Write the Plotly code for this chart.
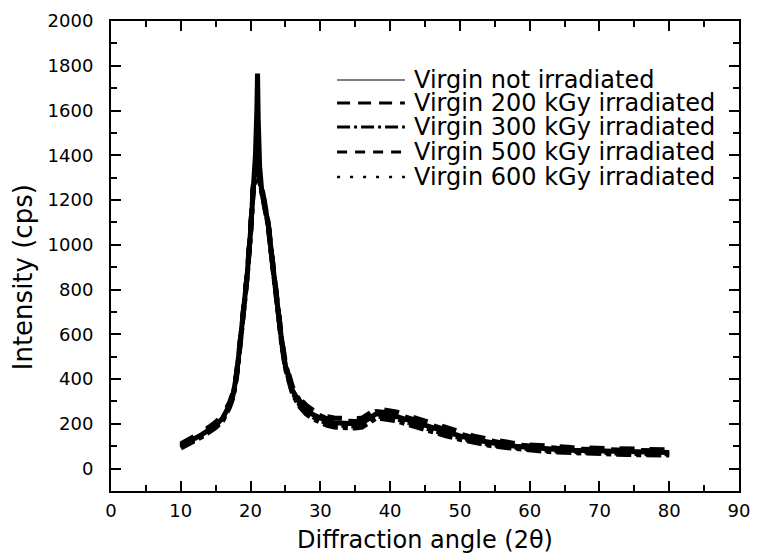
import plotly.graph_objects as go

# Diffraction angle (2theta), degrees
two_theta = [10, 11, 12, 13, 14, 15, 16, 17, 17.5, 18, 18.5, 19, 19.5, 20,
             20.4, 20.7, 20.9, 21.0, 21.1, 21.3, 21.6, 22.0, 22.5, 23.0, 23.5,
             24.0, 24.5, 25.0, 25.5, 26.0, 27, 28, 29, 30, 31, 32, 33, 34, 35,
             36, 37, 38, 39, 40, 41, 42, 43, 44, 45, 46, 47, 48, 50, 52, 54,
             56, 58, 60, 62, 64, 66, 68, 70, 72, 74, 76, 78, 80]

# Intensity (cps)
virgin_not_irr = [100, 116, 135, 152, 172, 195, 225, 285, 330, 420, 560, 700, 860, 1060,
                  1270, 1400, 1600, 1765, 1560, 1350, 1240, 1170, 1100, 960, 820,
                  680, 560, 460, 395, 350, 295, 262, 240, 225, 212, 205, 203, 200, 200,
                  205, 225, 245, 242, 238, 232, 222, 212, 202, 192, 182, 172, 163, 146, 130, 118,
                  108, 100, 94, 89, 85, 82, 80, 78, 76, 74, 73, 72, 72]
virgin_200 = [110, 126, 146, 163, 184, 207, 237, 296, 340, 428, 566, 706, 866, 1065,
              1268, 1310, 1335, 1340, 1332, 1300, 1245, 1178, 1108, 968, 828,
              690, 570, 472, 410, 366, 314, 282, 260, 245, 232, 226, 224, 222, 222,
              226, 246, 266, 263, 259, 252, 242, 232, 221, 211, 200, 190, 180, 162, 145, 132,
              121, 112, 106, 101, 97, 94, 92, 90, 88, 86, 85, 84, 84]
virgin_300 = [92, 106, 125, 142, 162, 184, 214, 275, 320, 410, 552, 692, 852, 1050,
              1255, 1290, 1315, 1320, 1318, 1285, 1230, 1160, 1090, 950, 810,
              670, 548, 448, 382, 336, 278, 244, 222, 206, 193, 186, 184, 181, 181,
              186, 206, 226, 223, 219, 213, 203, 193, 184, 174, 165, 155, 147, 131, 116, 105,
              96, 89, 83, 78, 74, 71, 69, 67, 65, 63, 62, 61, 61]
virgin_500 = [105, 121, 140, 158, 178, 201, 231, 290, 335, 424, 563, 703, 862, 1062,
              1272, 1320, 1345, 1352, 1345, 1310, 1250, 1175, 1104, 964, 824,
              685, 565, 466, 402, 358, 305, 272, 250, 235, 222, 215, 213, 210, 210,
              215, 235, 255, 252, 248, 242, 232, 222, 212, 202, 191, 181, 172, 154, 138, 125,
              115, 106, 100, 95, 91, 88, 86, 84, 82, 80, 79, 78, 78]
virgin_600 = [96, 110, 129, 146, 166, 189, 219, 280, 325, 414, 555, 695, 855, 1055,
              1262, 1300, 1325, 1330, 1325, 1292, 1235, 1165, 1095, 955, 815,
              675, 553, 453, 388, 342, 286, 252, 230, 215, 202, 195, 193, 190, 190,
              195, 215, 235, 232, 228, 222, 212, 202, 192, 182, 173, 163, 154, 138, 122, 111,
              101, 94, 88, 83, 79, 76, 74, 72, 70, 68, 67, 66, 66]

series_names = ["Virgin not irradiated", "Virgin 200 kGy irradiated",
                "Virgin 300 kGy irradiated", "Virgin 500 kGy irradiated",
                "Virgin 600 kGy irradiated"]
series_values = [virgin_not_irr, virgin_200, virgin_300, virgin_500, virgin_600]
data_dashes = ["solid", "dash", "dashdot", "dash", "dot"]
legend_dashes = ["solid", "13px,8px", "13px,4px,3px,4px", "10px,8px", "3px,10px"]
legend_widths = [1.2, 3, 3, 3, 2.5]

x_ticks = list(range(0, 100, 10))
y_ticks = list(range(0, 2200, 200))
x_title = "Diffraction angle (2\u03b8)"
y_title = "Intensity (cps)"

FONT = "DejaVu Sans"

fig = go.Figure()
for name, vals, dash in zip(series_names, series_values, data_dashes):
    fig.add_trace(go.Scatter(x=two_theta, y=vals, mode="lines", name=name,
                             line=dict(color="black", width=5, dash=dash),
                             showlegend=False))

# hand-drawn legend (long line samples as in the original)
row_y = [0.8745, 0.8255, 0.7745, 0.7213, 0.6681]
for name, yy, dsh, w in zip(series_names, row_y, legend_dashes, legend_widths):
    fig.add_shape(type="line", xref="paper", yref="paper", x0=0.360, x1=0.468,
                  y0=yy, y1=yy, line=dict(color="black", width=w, dash=dsh))
    fig.add_annotation(xref="paper", yref="paper", x=0.479, y=yy, text=name,
                       showarrow=False, xanchor="left", yanchor="middle",
                       font=dict(family=FONT, size=24, color="black"))

# axis titles (placed as in the original, which is not centred on the y axis)
fig.add_annotation(xref="paper", yref="paper", x=0.5, y=-0.1043, text=x_title,
                   showarrow=False, xanchor="center", yanchor="middle",
                   font=dict(family=FONT, size=24, color="black"))
fig.add_annotation(xref="paper", yref="paper", x=-0.140, y=0.455, text=y_title,
                   showarrow=False, xanchor="center", yanchor="middle", textangle=-90,
                   font=dict(family=FONT, size=26, color="black"))

axis_common = dict(showline=True, linecolor="black", linewidth=2, mirror="ticks",
                   ticks="inside", ticklen=10, tickwidth=2, tickcolor="black",
                   showgrid=False, zeroline=False,
                   tickfont=dict(family=FONT, size=18, color="black"))

fig.update_xaxes(range=[0, 90], tickvals=x_ticks, ticktext=[str(v) for v in x_ticks],
                 minor=dict(dtick=5, tick0=0, ticks="inside", ticklen=6, tickwidth=2,
                            tickcolor="black", showgrid=False),
                 ticklabelstandoff=2, **axis_common)
fig.update_yaxes(range=[-100, 2000], tickvals=y_ticks, ticktext=[str(v) for v in y_ticks],
                 minor=dict(dtick=100, tick0=0, ticks="inside", ticklen=6, tickwidth=2,
                            tickcolor="black", showgrid=False),
                 ticklabelstandoff=12, **axis_common)

fig.update_layout(width=752, height=551, margin=dict(l=103, r=21, t=13, b=68, autoexpand=False),
                  plot_bgcolor="white", paper_bgcolor="white", showlegend=False,
                  font=dict(family=FONT, color="black"))

fig.write_html("out.html")
